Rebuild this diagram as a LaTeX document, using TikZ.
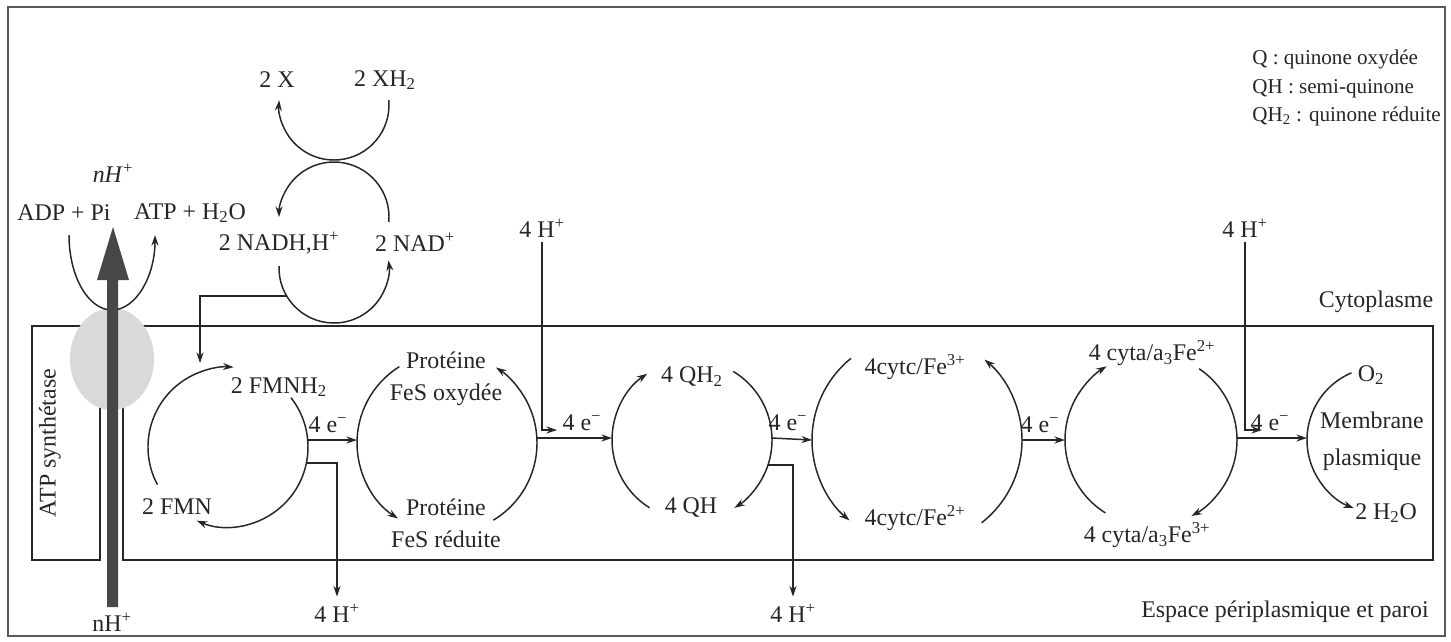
\documentclass[tikz,border=0pt]{standalone}
\usepackage{fontspec}
\setmainfont{Liberation Serif}
\usetikzlibrary{arrows.meta}
\newcommand{\hplus}{H\textsuperscript{+}}
\newcommand{\elec}{4 e\textsuperscript{−}}

\begin{document}
\begin{tikzpicture}[x=0.025cm,y=0.025cm,
  every node/.style={font=\fontsize{17}{21}\selectfont, inner sep=0pt, text=black!85},
  cyc/.style={line width=1.05pt, black!85},
  tip/.style={-{Stealth[length=7.5pt,width=5pt]}},
  membline/.style={line width=1.4pt, black!85}]
\useasboundingbox (0,0) rectangle (1451,-641);
\draw[gray!70!black, line width=0.8pt] (8,-7) rectangle (1445,-636);
\draw[membline] (32,-326) rectangle (100,-560);
\draw[membline] (123,-326) rectangle (1433,-560);
\fill[gray!30] (112,-359) ellipse[x radius=42, y radius=51];
\draw[cyc,tip] (69,-235) arc[start angle=180, end angle=360, x radius=43, y radius=75];
\fill[black!72] (107,-607) -- (107,-280) -- (97,-280) -- (113,-227) -- (129,-280) -- (118,-280) -- (118,-607) -- cycle;

\node (x) at (277,-80) {2 X};
\node (xh) at (385,-80) {2 XH\textsubscript{2}};
\node (nhtop) at (113,-173) {\textit{nH}\textsuperscript{+}};
\node (adp) at (64,-213) {ADP + Pi};
\node (atp) at (190,-213) {ATP + H\textsubscript{2}O};
\node (nadh) at (279,-243) {2 NADH,\hplus};
\node (nad) at (415,-242) {2 NAD\textsuperscript{+}};
\node (hin1) at (542,-228) {4 \hplus};
\node (hin2) at (1245,-228) {4 \hplus};
\node (cyto) at (1376,-302) {Cytoplasme};
\node[rotate=90] (synth) at (50,-443) {ATP synthétase};
\node (fmnh) at (279,-387) {2 FMNH\textsubscript{2}};
\node (fmn) at (177,-507) {2 FMN};
\node[align=center, font=\fontsize{17}{22.5}\selectfont] (feso) at (446,-379) {Protéine\\FeS oxydée};
\node[align=center, font=\fontsize{17}{22.5}\selectfont] (fesr) at (446,-523) {Protéine\\FeS réduite};
\node (qh2) at (692,-377) {4 QH\textsubscript{2}};
\node (qh) at (691,-508) {4 QH};
\node (cytc3) at (915,-367) {4cytc/Fe\textsuperscript{3+}};
\node (cytc2) at (915,-518) {4cytc/Fe\textsuperscript{2+}};
\node (cyta2) at (1152,-353) {4 cyta/a\textsubscript{3}Fe\textsuperscript{2+}};
\node (cyta3) at (1147,-535) {4 cyta/a\textsubscript{3}Fe\textsuperscript{3+}};
\node (o2) at (1371,-375) {O\textsubscript{2}};
\node[align=center, font=\fontsize{17}{26}\selectfont] (memb) at (1372,-441) {Membrane\\plasmique};
\node (water) at (1386,-513) {2 H\textsubscript{2}O};
\node (hout1) at (337,-613) {4 \hplus};
\node (hout2) at (793,-613) {4 \hplus};
\node (nhbot) at (112,-622) {nH\textsuperscript{+}};
\node (peri) at (1285,-612) {Espace périplasmique et paroi};
\node[align=left, anchor=west, font=\fontsize{15}{20.3}\selectfont] (legend) at (1252,-88) {Q : quinone oxydée\\QH : semi-quinone\\QH\textsubscript{2} : quinone réduite};
\node (e1) at (328,-425) {\elec};
\node (e2) at (582,-423) {\elec};
\node (e3) at (788,-423) {\elec};
\node (e4) at (1040,-425) {\elec};
\node (e5) at (1270,-423) {\elec};

\draw[cyc,tip] (334,-105) ++(5:55) arc[start angle=5, end angle=-185, radius=55];
\draw[cyc,tip] (334,-217) ++(-5:55) arc[start angle=-5, end angle=180, radius=55];
\draw[cyc,tip] (334,-268) ++(178:55) arc[start angle=178, end angle=368, radius=55];
\draw[cyc,tip] (228,-447) ++(208:80) arc[start angle=208, end angle=86, radius=80];
\draw[cyc,tip] (228,-447) ++(38:80) arc[start angle=38, end angle=-113, radius=80];
\draw[cyc,tip] (447,-443) ++(122:90) arc[start angle=122, end angle=237, radius=90];
\draw[cyc,tip] (447,-443) ++(-59:90) arc[start angle=-59, end angle=57, radius=90];
\draw[cyc,tip] (692,-440) ++(238:80) arc[start angle=238, end angle=124, radius=80];
\draw[cyc,tip] (692,-440) ++(59:80) arc[start angle=59, end angle=-58, radius=80];
\draw[cyc,tip] (917,-440) ++(129:105) arc[start angle=129, end angle=230, radius=105];
\draw[cyc,tip] (917,-440) ++(-52:105) arc[start angle=-52, end angle=50, radius=105];
\draw[cyc,tip] (1151,-440) ++(238:86) arc[start angle=238, end angle=121, radius=86];
\draw[cyc,tip] (1151,-440) ++(56:86) arc[start angle=56, end angle=-62, radius=86];
\draw[cyc,tip] (1380,-440) ++(113:73) arc[start angle=113, end angle=249, radius=73];

\coordinate (nadout) at (287,-296);
\coordinate (fmnin) at (200,-363);
\coordinate (fmnr) at (308,-440);
\coordinate (fmnlow) at (306,-463);
\coordinate (fesl) at (357,-440);
\coordinate (fesr) at (537,-438);
\coordinate (hq1) at (557,-430);
\coordinate (ql) at (612,-438);
\coordinate (qr) at (772,-438);
\coordinate (qlow) at (768,-465);
\coordinate (cytcl) at (812,-440);
\coordinate (cytcr) at (1022,-440);
\coordinate (cytal) at (1065,-440);
\coordinate (cytar) at (1237,-438);
\coordinate (hq2) at (1262,-430);
\coordinate (o2l) at (1307,-438);

\draw[cyc,tip] (nadout) -| (fmnin);
\draw[cyc,tip] (fmnr) -- (fesl);
\draw[cyc,tip,shorten >=5pt] (fmnlow) -| (hout1);
\draw[cyc,tip,shorten <=3pt] (hin1) |- (hq1);
\draw[cyc,tip] (fesr) -- (ql);
\draw[cyc,tip] (qr) -- (cytcl);
\draw[cyc,tip,shorten >=5pt] (qlow) -| (hout2);
\draw[cyc,tip] (cytcr) -- (cytal);
\draw[cyc,tip,shorten <=3pt] (hin2) |- (hq2);
\draw[cyc,tip] (cytar) -- (o2l);
\end{tikzpicture}
\end{document}
